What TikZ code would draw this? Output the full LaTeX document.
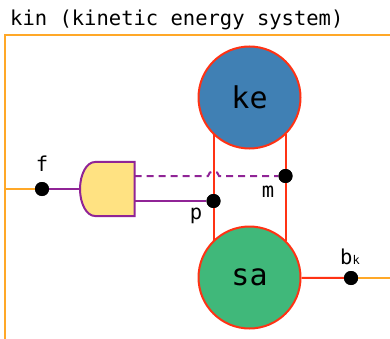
\documentclass[tikz,border=0pt]{standalone}
\usepackage{fontspec}
\setmonofont{DejaVu Sans Mono}
\usepackage{tikz}
\usetikzlibrary{positioning, calc}
\definecolor{FrameOrange}{RGB}{255, 168, 40}
\definecolor{WireRed}{RGB}{255, 50, 20}
\definecolor{KeBlue}{RGB}{64, 128, 180}
\definecolor{SaGreen}{RGB}{64, 184, 122}
\definecolor{GateYellow}{RGB}{255, 226, 130}
\definecolor{GatePurple}{RGB}{144, 36, 150}

\begin{document}
\begin{tikzpicture}[x=1pt, y=-1pt,
  store/.style={
    circle, draw=WireRed, line width=2pt,
    minimum size=102pt, inner sep=0pt,
    font=\ttfamily\fontsize{30}{30}\selectfont
  },
  port/.style={circle, fill=black, minimum size=14pt, inner sep=0pt},
  lbl/.style={font=\ttfamily\fontsize{20.5}{20.5}\selectfont, inner sep=0pt, anchor=base},
  frame/.style={draw=FrameOrange, line width=2pt},
  wire/.style={draw=WireRed, line width=2pt},
  pwire/.style={draw=GatePurple, line width=2pt},
  dwire/.style={pwire, dash pattern=on 7pt off 5pt}
]
  \useasboundingbox (0,0) rectangle (390,339);

  % title and frame
  \node[lbl, anchor=base west] (title) at (10,26) {kin (kinetic energy system)};
  \draw[frame] (390,35) -- (5,35) -- (5,339);

  % stores
  \node[store, fill=KeBlue] (ke) at (249.5,97.5) {ke};
  \node[store, fill=SaGreen, below=76pt of ke] (sa) {sa};

  % gate
  \node[minimum width=55pt, minimum height=54pt, inner sep=0pt] (gate) at (107,189) {};
  \draw[pwire, fill=GateYellow] (gate.north east) -- (95,162)
    .. controls (86.7,162) and (80,174.2) .. (80,189)
    .. controls (80,203.8) and (86.7,216) .. (95,216)
    -- (gate.south east) -- cycle;
  \coordinate (gm) at (134.5,176);
  \coordinate (gp) at (134.5,201);

  % ports
  \node[port] (f)  at (42,189) {};
  \node[port] (p)  at (213.5,201) {};
  \node[port] (m)  at (285.5,176) {};
  \node[port] (bk) at (351,278) {};
  \coordinate (fin)   at (5,189);
  \coordinate (bkout) at (390,278);

  \node[lbl] (flbl) at (42,171) {f};
  \node[lbl] (plbl) at (196,219) {p};
  \node[lbl] (mlbl) at (268,197) {m};
  \node[lbl] (bklbl) at (350,264) {b{\fontsize{12}{12}\selectfont k}};

  % connectors
  \draw[wire] (p |- ke.225) -- (p) -- (p |- sa.135);
  \draw[wire] (m |- ke.315) -- (m) -- (m |- sa.45);
  \draw[wire] (sa) -- (bk);
  \draw[frame] (bk) -- (bkout);
  \draw[frame] (fin) -- (f);
  \draw[pwire] (f) -- (gate.west);
  \draw[pwire] (gp) -- (p);
  \draw[dwire] (gm) -- (208,176) .. controls (208,170) and (219,170) .. (219,176) -- (m);

  % dots on top
  \foreach \d in {f,p,m,bk} \fill (\d) circle (7pt);
\end{tikzpicture}
\end{document}
